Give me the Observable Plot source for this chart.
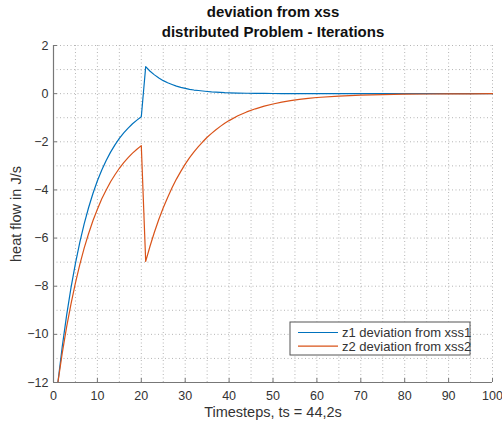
<!DOCTYPE html>
<html>
<head>
<meta charset="utf-8">
<script src="https://cdn.jsdelivr.net/npm/d3@7"></script>
<script src="https://cdn.jsdelivr.net/npm/@observablehq/plot@0.6"></script>
<style>
  html, body { margin: 0; padding: 0; background: #fff; }
  #chart { width: 502px; height: 424px; }
  svg { font-family: "Liberation Sans", Arial, Helvetica, sans-serif; }
</style>
</head>
<body>
<div id="chart"></div>
<script>
// Timesteps sampled along the run
const timesteps = [
  1, 2, 3, 4, 5, 6, 7, 8, 9, 10,
  11, 12, 13, 14, 15, 16, 17, 18, 19, 20,
  21, 22, 23, 24, 25, 26, 27, 28, 29, 30,
  31, 32, 33, 34, 35, 36, 37, 38, 39, 40,
  42, 44, 46, 48, 50, 52, 54, 56, 58, 60,
  65, 70, 75, 80, 85, 90, 95, 100
];

// z1 deviation from xss1 (J/s)
const z1 = [
  -12, -10.50, -9.19, -8.05, -7.05, -6.17, -5.40, -4.73, -4.14, -3.62,
  -3.17, -2.78, -2.43, -2.13, -1.86, -1.63, -1.43, -1.25, -1.10, -0.96,
  1.12, 0.93, 0.78, 0.65, 0.54, 0.45, 0.38, 0.31, 0.26, 0.22,
  0.18, 0.15, 0.13, 0.11, 0.09, 0.07, 0.06, 0.05, 0.04, 0.035,
  0.025, 0.017, 0.012, 0.008, 0.006, 0.004, 0.003, 0.002, 0.002, 0.001,
  0.001, 0, 0, 0, 0, 0, 0, 0
];

// z2 deviation from xss2 (J/s)
const z2 = [
  -12, -10.77, -9.68, -8.72, -7.86, -7.09, -6.41, -5.81, -5.27, -4.80,
  -4.37, -4.00, -3.66, -3.37, -3.10, -2.87, -2.66, -2.47, -2.31, -2.16,
  -6.97, -6.33, -5.75, -5.22, -4.74, -4.31, -3.91, -3.55, -3.23, -2.93,
  -2.66, -2.42, -2.20, -2.00, -1.81, -1.65, -1.50, -1.36, -1.23, -1.12,
  -0.92, -0.76, -0.63, -0.52, -0.43, -0.35, -0.29, -0.24, -0.20, -0.16,
  -0.10, -0.063, -0.039, -0.024, -0.015, -0.009, -0.006, -0.003
];

const seriesNames = ["z1 deviation from xss1", "z2 deviation from xss2"];
const seriesColors = ["#0072BD", "#D95319"];
const seriesValues = [z1, z2];

const xTicks = [0, 10, 20, 30, 40, 50, 60, 70, 80, 90, 100];
const yTicks = [2, 0, -2, -4, -6, -8, -10, -12];
const xGrid = d3.range(0, 101, 5);
const yGrid = d3.range(-12, 3, 1);

const titleLines = ["deviation from xss", "distributed Problem - Iterations"];
const xLabel = "Timesteps, ts = 44,2s";
const yLabel = "heat flow in J/s";

const rows = seriesNames.flatMap((name, i) =>
  timesteps.map((t, j) => ({t, v: seriesValues[i][j], series: name}))
);

const axisColor = "#777";
const textColor = "#333";

const chart = Plot.plot({
  width: 502,
  height: 424,
  marginTop: 45,
  marginLeft: 53,
  marginRight: 10,
  marginBottom: 42,
  style: {fontFamily: "'Liberation Sans', Arial, sans-serif", background: "#fff", overflow: "visible"},
  x: {domain: [0, 100]},
  y: {domain: [-12, 2]},
  color: {domain: seriesNames, range: seriesColors},
  marks: [
    Plot.gridX(xGrid, {stroke: "#b5b5b5", strokeOpacity: 1, strokeDasharray: "1,2.5"}),
    Plot.gridY(yGrid, {stroke: "#b5b5b5", strokeOpacity: 1, strokeDasharray: "1,2.5"}),
    Plot.line(rows, {x: "t", y: "v", z: "series", stroke: "series", strokeWidth: 1.2}),
    Plot.ruleX([0], {stroke: axisColor, strokeWidth: 1.2}),
    Plot.ruleY([-12], {stroke: axisColor, strokeWidth: 1.2}),
    Plot.axisX(xTicks, {tickSize: 0, tickPadding: 9, fontSize: 12.5, fill: textColor, label: null}),
    Plot.axisX(xTicks, {tickSize: -4, text: null, stroke: axisColor, label: null}),
    Plot.axisY(yTicks, {tickSize: 0, tickPadding: 5, fontSize: 12.5, fill: textColor, label: null}),
    Plot.axisY(yTicks, {tickSize: -4, text: null, stroke: axisColor, label: null}),
    Plot.text([titleLines[0]], {frameAnchor: "top", dy: -33, text: d => d, fontSize: 15, fontWeight: "bold", fill: "#111", lineAnchor: "middle", textAnchor: "middle"}),
    Plot.text([titleLines[1]], {frameAnchor: "top", dy: -13, text: d => d, fontSize: 15, fontWeight: "bold", fill: "#111", lineAnchor: "middle", textAnchor: "middle"}),
    Plot.text([xLabel], {frameAnchor: "bottom", dy: 30, text: d => d, fontSize: 14.5, fill: textColor, lineAnchor: "middle", textAnchor: "middle"}),
    Plot.text([yLabel], {frameAnchor: "left", dx: -37, rotate: -90, text: d => d, fontSize: 14.5, fill: textColor, lineAnchor: "middle", textAnchor: "middle"})
  ]
});

// Legend box in the lower right of the axes
const svg = d3.select(chart);
const lg = svg.append("g").attr("transform", "translate(290,322)");
lg.append("rect")
  .attr("width", 180).attr("height", 33)
  .attr("fill", "#fff").attr("stroke", "#555").attr("stroke-width", 1);
seriesNames.forEach((name, i) => {
  const y = 10.5 + i * 13.7;
  lg.append("line")
    .attr("x1", 8).attr("x2", 48).attr("y1", y).attr("y2", y)
    .attr("stroke", seriesColors[i]).attr("stroke-width", 1.2);
  lg.append("text")
    .attr("x", 52).attr("y", y).attr("dy", "0.35em")
    .attr("text-anchor", "start")
    .attr("font-size", 13).attr("fill", textColor)
    .text(name);
});

document.getElementById("chart").appendChild(chart);
</script>
</body>
</html>
